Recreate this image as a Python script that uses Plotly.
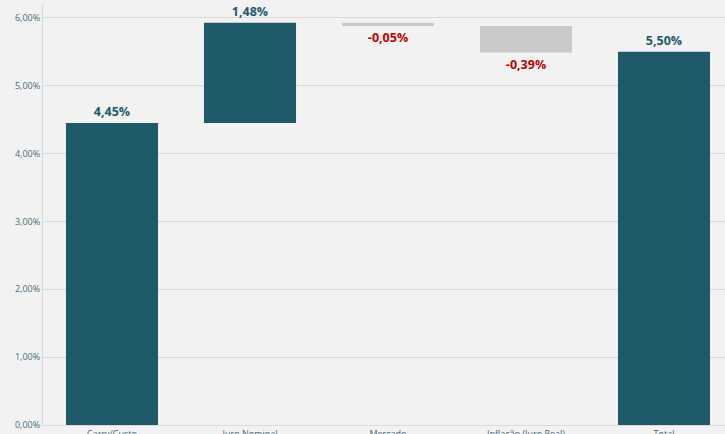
import plotly.graph_objects as go

categories = ["Carry/Custo", "Juro Nominal", "Mercado", "Inflação (Juro Real)", "Total"]
values = [4.45, 1.48, -0.05, -0.39, 5.50]
measures = ["relative", "relative", "relative", "relative", "absolute"]
value_labels = ["4,45%", "1,48%", "-0,05%", "-0,39%", "5,50%"]
label_colors = ["#1f5a6b", "#1f5a6b", "#c00000", "#c00000", "#1f5a6b"]
tick_vals = [0, 1, 2, 3, 4, 5, 6]
tick_text = ["0,00%", "1,00%", "2,00%", "3,00%", "4,00%", "5,00%", "6,00%"]

TEAL = "#1f5a6b"
GREY = "#c8c9c8"

fig = go.Figure(go.Waterfall(
    x=categories,
    y=values,
    measure=measures,
    text=value_labels,
    textposition="outside",
    textfont=dict(family="Open Sans", size=12.5, color=label_colors, weight="bold"),
    increasing=dict(marker=dict(color=TEAL)),
    decreasing=dict(marker=dict(color=GREY)),
    totals=dict(marker=dict(color=TEAL)),
    connector=dict(visible=False),
    width=0.667,
    cliponaxis=False,
    hoverinfo="x+y",
))

fig.update_layout(
    width=725, height=434,
    margin=dict(l=43, r=0, t=5, b=9),
    paper_bgcolor="#f2f2f2",
    plot_bgcolor="#f2f2f2",
    showlegend=False,
    font=dict(family="Open Sans", size=9, color="#4a6b78"),
    xaxis=dict(
        range=[-0.5, 4.442],
        showgrid=False,
        showline=True, linecolor="#d9d9d9", linewidth=1,
        tickfont=dict(size=9, color="#4a6b78"),
        ticks="", fixedrange=True, automargin=False,
    ),
    yaxis=dict(
        range=[0, 6.19],
        tickvals=tick_vals, ticktext=tick_text,
        showgrid=True, gridcolor="#d9d9d9", gridwidth=1,
        showline=True, linecolor="#d9d9d9", linewidth=1,
        zeroline=False,
        tickfont=dict(size=9, color="#4a6b78"),
        ticks="", fixedrange=True, automargin=False,
    ),
)

fig.write_html(
    "out.html",
    config={"displayModeBar": False},
    post_script="document.body.style.margin='0';document.body.style.background='#f2f2f2';",
)
